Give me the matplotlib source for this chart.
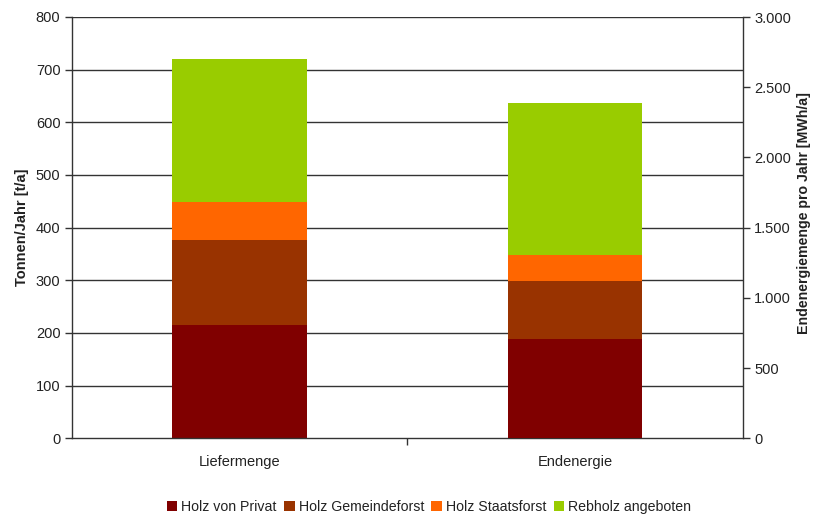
import matplotlib
matplotlib.use("Agg")
import matplotlib.pyplot as plt
from matplotlib.patches import Patch
from matplotlib.ticker import FuncFormatter

plt.rcParams['font.family'] = ['Liberation Sans', 'DejaVu Sans']

categories = ["Liefermenge", "Endenergie"]
series_names = ["Holz von Privat", "Holz Gemeindeforst", "Holz Staatsforst", "Rebholz angeboten"]
colors = ["#800000", "#993300", "#FF6600", "#99CC00"]

# Liefermenge in t/a (left axis)
liefermenge_t = [215, 162, 72, 272]
# Endenergie in MWh/a (right axis)
endenergie_mwh = [705, 415, 185, 1085]

left_ticks = [0, 100, 200, 300, 400, 500, 600, 700, 800]
right_ticks = [0, 500, 1000, 1500, 2000, 2500, 3000]

fig = plt.figure(figsize=(8.14, 5.15), dpi=100)
ax = fig.add_axes([71.5 / 814, 1 - 438.3 / 515, (743 - 71.5) / 814, (438.3 - 17) / 515])
ax2 = ax.twinx()

bar_w = 0.4
text_col = "#222222"
grid_col = "#333333"
fs = 10.5

ax.set_xlim(-0.5, 1.5)
ax.set_ylim(0, 800)
ax2.set_ylim(0, 3000)

for t in left_ticks[1:]:
    ax.axhline(t, color=grid_col, lw=1.0, zorder=0)

bottom = 0
for val, col in zip(liefermenge_t, colors):
    ax.bar(0, val, bar_w, bottom=bottom, color=col, zorder=2)
    bottom += val

bottom = 0
for val, col in zip(endenergie_mwh, colors):
    ax2.bar(1, val, bar_w, bottom=bottom, color=col, zorder=2)
    bottom += val

ax.set_yticks(left_ticks)
ax2.set_yticks(right_ticks)
ax2.yaxis.set_major_formatter(FuncFormatter(lambda v, p: f"{int(v):,}".replace(",", ".")))

ax.set_xticks([0.5])
ax.set_xticklabels([""])
for i, c in enumerate(categories):
    ax.text(i, -0.04, c, transform=ax.get_xaxis_transform(), ha="center", va="top",
            fontsize=fs, color=text_col)

for a in (ax, ax2):
    a.tick_params(axis="y", labelsize=fs, labelcolor=text_col, length=5, width=1, color=grid_col, pad=3)
    for s in a.spines.values():
        s.set_color(grid_col)
        s.set_linewidth(1)
    a.spines["top"].set_visible(False)
ax.tick_params(axis="x", length=5, width=1, color=grid_col)
ax2.spines["left"].set_visible(False)
ax2.spines["bottom"].set_visible(False)
ax.spines["right"].set_visible(False)

ax.set_ylabel("Tonnen/Jahr [t/a]", fontsize=fs, fontweight="bold", color=text_col,
              rotation=90, va="center")
ax.yaxis.set_label_coords(-49 / 671.5, 0.5)
ax2.set_ylabel("Endenergiemenge pro Jahr [MWh/a]", fontsize=10.2, fontweight="bold", color=text_col,
               rotation=90, va="center")
ax2.yaxis.set_label_coords(1 + 61 / 671.5, 0.535)

handles = [Patch(facecolor=c, edgecolor="none") for c in colors]
fig.legend(handles, series_names, loc="center", bbox_to_anchor=(429 / 814, 1 - 507 / 515),
           ncol=4, frameon=False, fontsize=10.2, handlelength=0.75, handleheight=0.75,
           handletextpad=0.3, columnspacing=0.5, labelcolor=text_col)

fig.savefig("out.png", dpi=100)
